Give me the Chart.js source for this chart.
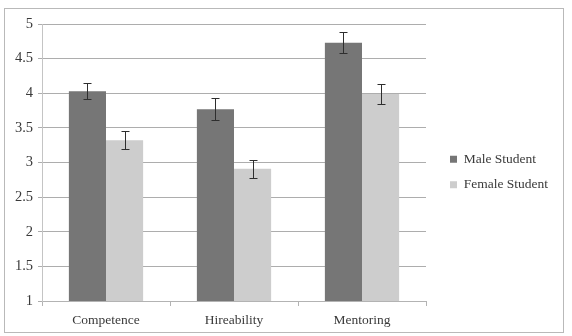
<!DOCTYPE html>
<html>
<head>
<meta charset="utf-8">
<script src="https://cdn.jsdelivr.net/npm/chart.js@4/dist/chart.umd.min.js"></script>
<style>
  html, body { margin: 0; padding: 0; background: #ffffff; }
  #wrap { position: relative; width: 572px; height: 336px; }
  #c { position: absolute; left: 0; top: 0; }
  #frame { position: absolute; left: 4px; top: 8px; width: 558px; height: 323px; border: 1px solid #b9b9b9; pointer-events: none; }
</style>
</head>
<body>
<div id="wrap">
  <canvas id="c" width="572" height="336"></canvas>
  <div id="frame"></div>
</div>
<script>
// ---- data ----
const categories = ["Competence", "Hireability", "Mentoring"];
const seriesNames = ["Male Student", "Female Student"];
const maleValues = [4.03, 3.77, 4.73];
const femaleValues = [3.32, 2.91, 3.99];
const maleErrors = [0.12, 0.16, 0.15];
const femaleErrors = [0.13, 0.13, 0.14];
const yTicks = [1, 1.5, 2, 2.5, 3, 3.5, 4, 4.5, 5];

const FAMILY = "'Liberation Serif', 'DejaVu Serif', serif";
const FONT = { family: FAMILY, size: 13.5 };
const YFONT = { family: FAMILY, size: 14.5 };
const TEXT = "#3a3a3a";

const errorBarPlugin = {
  id: "errorBars",
  afterDatasetsDraw(chart) {
    const ctx = chart.ctx;
    const ys = chart.scales.y;
    chart.data.datasets.forEach((ds, di) => {
      const meta = chart.getDatasetMeta(di);
      meta.data.forEach((el, i) => {
        const v = ds.data[i];
        const e = ds.errors[i];
        const x = Math.round(el.x) + 0.5;
        const yt = Math.round(ys.getPixelForValue(v + e)) + 0.5;
        const yb = Math.round(ys.getPixelForValue(v - e)) + 0.5;
        ctx.save();
        ctx.strokeStyle = "#2e2e2e";
        ctx.lineWidth = 1;
        ctx.beginPath();
        ctx.moveTo(x, yt); ctx.lineTo(x, yb);
        ctx.moveTo(x - 4, yt); ctx.lineTo(x + 4, yt);
        ctx.moveTo(x - 4, yb); ctx.lineTo(x + 4, yb);
        ctx.stroke();
        ctx.restore();
      });
    });
  }
};

const legendPlacePlugin = {
  id: "legendPlace",
  afterInit(chart) {
    const L = chart.legend;
    if (!L) return;
    const origFit = L.fit.bind(L);
    L.fit = function () { origFit(); this.width = 146; };
  },
  afterLayout(chart) {
    const L = chart.legend;
    if (!L) return;
    L.left = 438; L.right = 572;
    L.top = 140.5; L.bottom = 336;
  }
};

new Chart(document.getElementById("c"), {
  type: "bar",
  data: {
    labels: categories,
    datasets: [
      { label: seriesNames[0], data: maleValues, errors: maleErrors, backgroundColor: "#767676", borderWidth: 0 },
      { label: seriesNames[1], data: femaleValues, errors: femaleErrors, backgroundColor: "#cdcdcd", borderWidth: 0 }
    ]
  },
  options: {
    responsive: false,
    animation: false,
    layout: { padding: { left: 0, right: 0, top: 24, bottom: 0 } },
    datasets: { bar: { categoryPercentage: 0.58, barPercentage: 1.0 } },
    plugins: {
      tooltip: { enabled: false },
      legend: {
        position: "right",
        align: "start",
        labels: { boxWidth: 7, boxHeight: 7, padding: 12, color: TEXT, font: FONT }
      }
    },
    scales: {
      x: {
        offset: true,
        grid: { display: true, drawOnChartArea: false, drawTicks: true, tickLength: 5, color: "#b3b3b3", offset: true },
        border: { display: true, color: "#b3b3b3" },
        ticks: { color: TEXT, font: FONT, padding: 6 },
        afterFit(s) { s.height = 35; }
      },
      y: {
        min: 1, max: 5,
        afterBuildTicks(s) { s.ticks = yTicks.map(v => ({ value: v })); },
        grid: { color: "#adadad", lineWidth: 1, drawTicks: true, tickLength: 4 },
        border: { display: true, color: "#c4c4c4" },
        ticks: { color: TEXT, font: YFONT, padding: 5, callback: (v) => String(v) },
        afterFit(s) { s.width = 42; }
      }
    }
  },
  plugins: [errorBarPlugin, legendPlacePlugin]
});
</script>
</body>
</html>
